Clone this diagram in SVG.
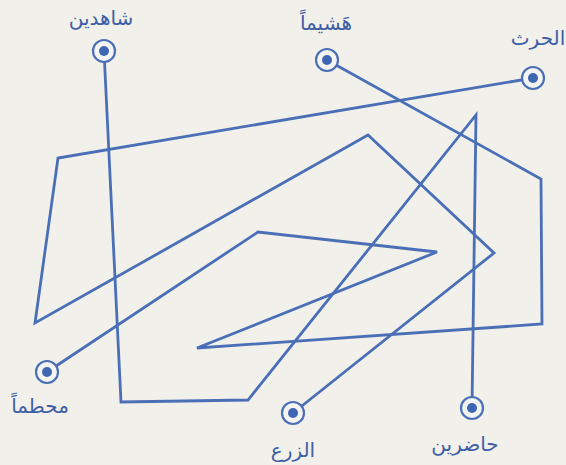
<svg xmlns="http://www.w3.org/2000/svg" width="566" height="465" viewBox="0 0 566 465">
<style>
.bg{fill:#f2f0ea}
.ln{fill:none;stroke:#4a6fb6;stroke-width:2.8;stroke-linejoin:miter;stroke-linecap:round}
.ring{fill:#f4f4f2;stroke:#4a6fb6;stroke-width:2.2}
.dot{fill:#3f66b3}
.lbl{font-family:"DejaVu Sans","Noto Sans",sans-serif;font-size:20px;fill:#3e5fa6;text-anchor:middle}
</style>
<rect class="bg" x="0" y="0" width="566" height="465"/>
<g id="connectors">
<polyline class="ln" points="104,51 121,402 248,400 476,115 472,408"/>
<polyline class="ln" points="327,60 541,179 542,324 197,348 437,252 258,232 47,372"/>
<polyline class="ln" points="533,78 58,158 35,323 368,135 494,253 293,413"/>
</g>
<g id="n-shahidin">
<circle class="ring" cx="104" cy="51" r="11"/><circle class="dot" cx="104" cy="51" r="5"/>
<text class="lbl" x="101" y="25">شاهدين</text>
</g>
<g id="n-hashiman">
<circle class="ring" cx="327" cy="60" r="11"/><circle class="dot" cx="327" cy="60" r="5"/>
<text class="lbl" x="326" y="30">هَشيماً</text>
</g>
<g id="n-alharth">
<circle class="ring" cx="533" cy="78" r="11"/><circle class="dot" cx="533" cy="78" r="5"/>
<text class="lbl" x="538" y="45">الحرث</text>
</g>
<g id="n-muhattaman">
<circle class="ring" cx="47" cy="372" r="11"/><circle class="dot" cx="47" cy="372" r="5"/>
<text class="lbl" x="40" y="413">محطماً</text>
</g>
<g id="n-alzar">
<circle class="ring" cx="293" cy="413" r="11"/><circle class="dot" cx="293" cy="413" r="5"/>
<text class="lbl" x="293" y="457">الزرع</text>
</g>
<g id="n-hadirin">
<circle class="ring" cx="472" cy="408" r="11"/><circle class="dot" cx="472" cy="408" r="5"/>
<text class="lbl" x="465" y="451">حاضرين</text>
</g>
</svg>
